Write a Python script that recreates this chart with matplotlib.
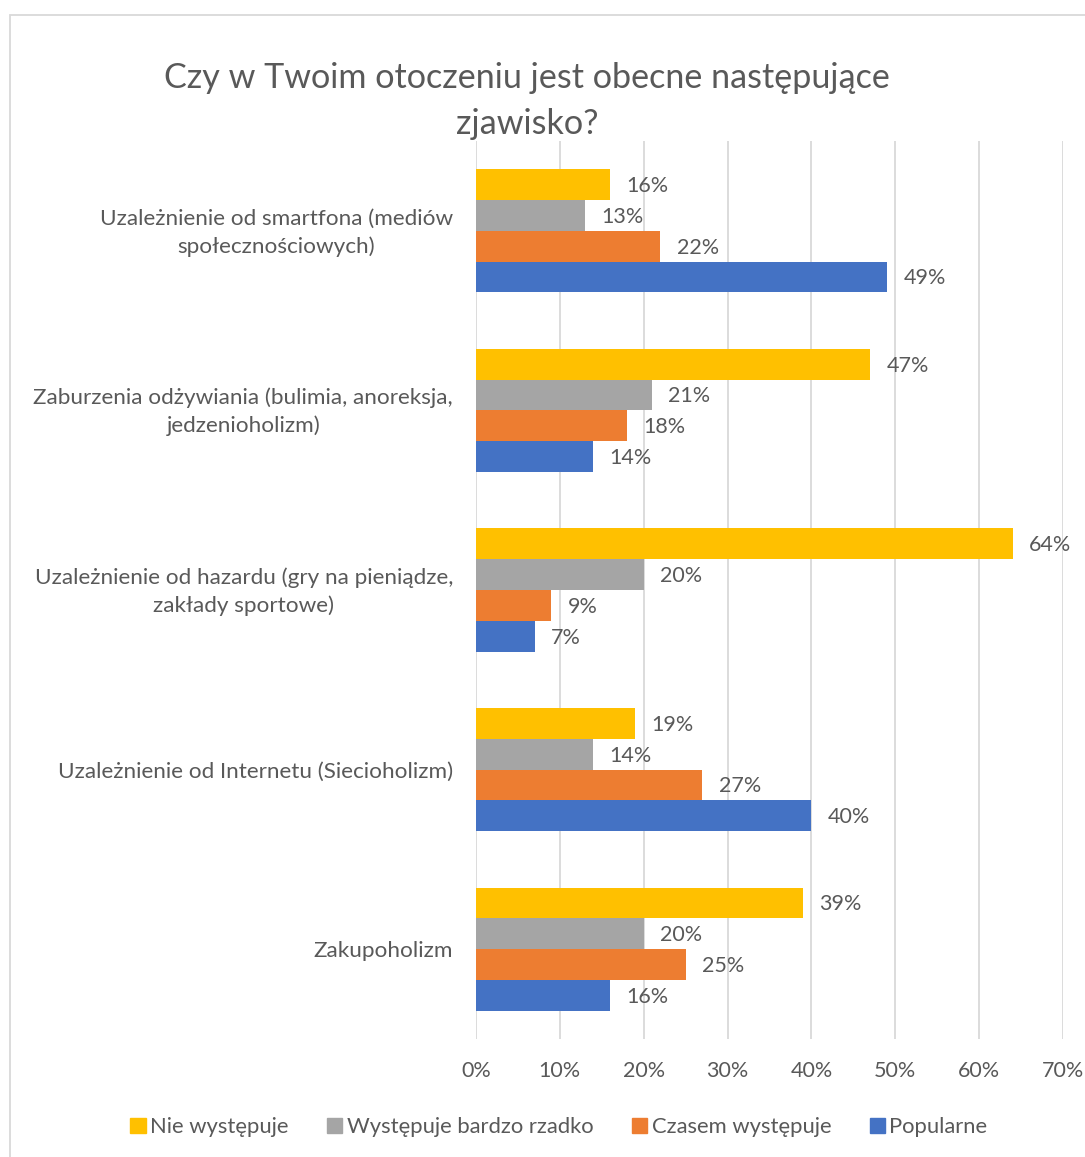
import matplotlib.pyplot as plt
from matplotlib.patches import Patch, Rectangle
from matplotlib.transforms import ScaledTranslation

plt.rcParams['font.family'] = ['Lato', 'DejaVu Sans']

# Dane
kategorie = [
    "Uzależnienie od smartfona (mediów\nspołecznościowych)",
    "Zaburzenia odżywiania (bulimia, anoreksja,\njedzenioholizm)",
    "Uzależnienie od hazardu (gry na pieniądze,\nzakłady sportowe)",
    "Uzależnienie od Internetu (Siecioholizm)",
    "Zakupoholizm",
]
serie = ["Nie występuje", "Występuje bardzo rzadko", "Czasem występuje", "Popularne"]
nie_wystepuje = [0.16, 0.47, 0.64, 0.19, 0.39]
bardzo_rzadko = [0.13, 0.21, 0.20, 0.14, 0.20]
czasem = [0.22, 0.18, 0.09, 0.27, 0.25]
popularne = [0.49, 0.14, 0.07, 0.40, 0.16]
wartosci = [nie_wystepuje, bardzo_rzadko, czasem, popularne]
kolory = ["#FFC000", "#A5A5A5", "#ED7D31", "#4472C4"]
xticks = [0, 0.1, 0.2, 0.3, 0.4, 0.5, 0.6, 0.7]

txt = "#595959"
W, H = 1085, 1157
fig = plt.figure(figsize=(W / 100, H / 100), dpi=100)
ax = fig.add_axes([476 / W, 1 - 1039 / H, (1063 - 476) / W, (1039 - 141) / H])

# ramka wykresu
fig.patches.append(Rectangle((10 / W, -0.1), 1.2, 1 - 15 / H + 0.1, transform=fig.transFigure,
                             fill=False, edgecolor="#D9D9D9", linewidth=1.3))

h = 0.1715
n = len(kategorie)
for j, (vals, kol) in enumerate(zip(wartosci, kolory)):
    for i, v in enumerate(vals):
        y = i + (j - 1.5) * h
        ax.barh(y, v, height=h, color=kol, zorder=3)
        ax.text(v + 0.0195, y + 0.008, f"{round(v * 100)}%", va="center", ha="left",
                fontsize=15.5, color=txt)

ax.set_ylim(n - 0.5, -0.5)
ax.set_xlim(0, 0.7)
ax.set_xticks(xticks)
ax.set_xticklabels([f"{round(x * 100)}%" for x in xticks], fontsize=15.5, color=txt)
ax.set_yticks(range(n))
ax.set_yticklabels(kategorie, fontsize=16.2, color=txt, multialignment="center", linespacing=1.45)
ax.tick_params(length=0)
ax.tick_params(axis="x", pad=16)
ax.tick_params(axis="y", pad=16.5)
ax.grid(axis="x", color="#D9D9D9", linewidth=1.3, zorder=0)
for s in ax.spines.values():
    s.set_visible(False)

# dwuwierszowe etykiety lekko w górę
for lab in ax.get_yticklabels():
    if "\n" in lab.get_text():
        lab.set_transform(lab.get_transform() + ScaledTranslation(0, 4 / 100, fig.dpi_scale_trans))

fig.text(527 / W, 1 - 88 / H, "Czy w Twoim otoczeniu jest obecne następujące",
         ha="center", va="baseline", fontsize=24.6, color=txt)
fig.text(527 / W, 1 - 134 / H, "zjawisko?",
         ha="center", va="baseline", fontsize=24.6, color=txt)

uchwyty = [Patch(color=k) for k in kolory]
fig.legend(uchwyty, serie, loc="center", bbox_to_anchor=(559 / W, 1 - 1127 / H), ncol=4,
           frameon=False, fontsize=15.8, labelcolor=txt, handlelength=0.7, handleheight=0.7,
           handletextpad=0.2, columnspacing=1.75)

fig.savefig("out.png", dpi=100)
